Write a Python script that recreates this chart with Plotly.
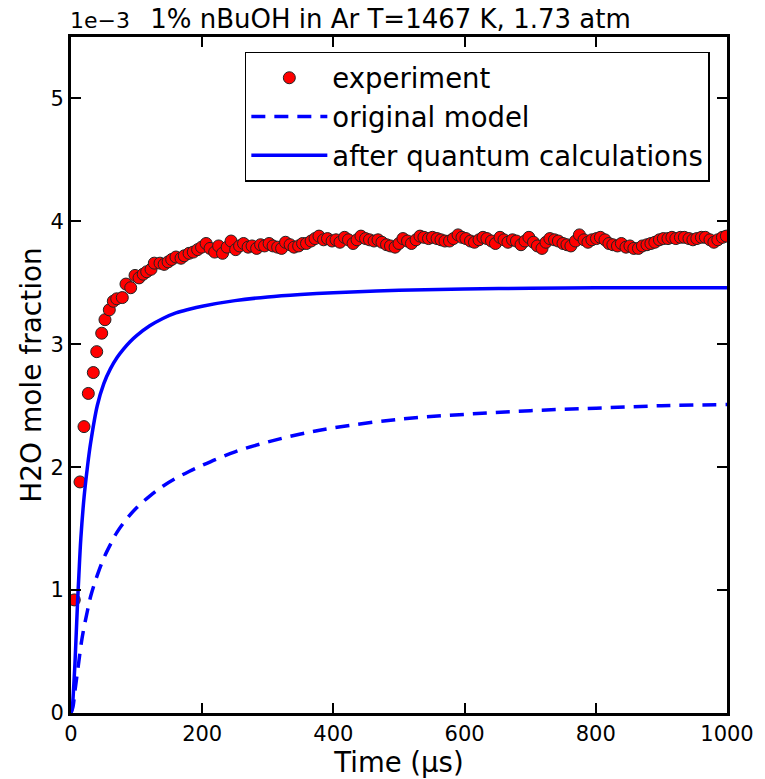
import plotly.graph_objects as go

# Experiment (time in µs, H2O mole fraction in units of 1e-3)
exp_t = [5, 13.7, 19.8, 26.4, 34, 39.2, 46.8, 51.8, 58.4, 64.5, 69.7, 78.2, 83.8, 91, 97.6,
         103.7, 110, 115.4, 122, 127, 135.7, 142, 148, 153.5, 160, 167.7, 172.7, 180, 186.4,
         193, 199, 206, 212, 219, 225, 231, 238, 244, 251, 257, 263, 270, 276, 283, 289, 295,
         302, 308, 315, 321, 327, 334, 340, 347, 353, 359, 366, 372, 378, 385, 391, 398, 404,
         410, 417, 423, 430, 436, 442, 449, 455, 462, 468, 474, 481, 487, 494, 500, 506, 513,
         519, 526, 532, 538, 545, 551, 558, 564, 570, 577, 583, 590, 596, 602, 609, 615, 622,
         628, 634, 641, 647, 654, 660, 666, 673, 679, 686, 692, 698, 705, 711, 718, 724, 730,
         737, 743, 750, 756, 762, 769, 775, 782, 788, 794, 801, 807, 814, 820, 826, 833, 839,
         846, 852, 858, 865, 871, 878, 884, 890, 897, 903, 910, 916, 922, 929, 935, 942, 948,
         954, 961, 967, 974, 980, 986, 993, 999]
exp_y = [0.92, 1.88, 2.33, 2.60, 2.77, 2.94, 3.09, 3.20, 3.28, 3.35, 3.37, 3.38, 3.49, 3.46, 3.56,
         3.54, 3.57, 3.59, 3.61, 3.66, 3.66, 3.65, 3.67, 3.69, 3.71, 3.70, 3.72, 3.74, 3.75,
         3.77, 3.79, 3.82, 3.78, 3.75, 3.80, 3.74, 3.79, 3.84, 3.77, 3.80, 3.82, 3.79, 3.80, 3.78, 3.81, 3.80,
         3.82, 3.80, 3.79, 3.78, 3.83, 3.81, 3.79, 3.80, 3.82, 3.82, 3.84, 3.86, 3.88, 3.85, 3.86, 3.84, 3.85,
         3.83, 3.87, 3.85, 3.82, 3.85, 3.88, 3.86, 3.85, 3.84, 3.85, 3.83, 3.81, 3.80, 3.79, 3.82, 3.86, 3.84,
         3.82, 3.85, 3.88, 3.87, 3.86, 3.87, 3.86, 3.85, 3.84, 3.84, 3.86, 3.89, 3.87, 3.86, 3.84, 3.83, 3.85,
         3.87, 3.86, 3.84, 3.82, 3.87, 3.85, 3.83, 3.85, 3.84, 3.81, 3.84, 3.87, 3.83, 3.80, 3.78, 3.83, 3.86,
         3.85, 3.84, 3.82, 3.81, 3.80, 3.84, 3.89, 3.85, 3.83, 3.85, 3.86, 3.87, 3.85, 3.82, 3.81, 3.80, 3.82,
         3.79, 3.80, 3.78, 3.78, 3.80, 3.81, 3.82, 3.83, 3.85, 3.86, 3.86, 3.87, 3.86, 3.87, 3.87, 3.86, 3.85,
         3.86, 3.87, 3.87, 3.85, 3.83, 3.85, 3.87, 3.88]

# Original model (dashed)
orig_t = [0, 3, 6, 9, 12, 16, 20, 25, 30, 35, 40, 50, 60, 70, 85, 100, 120, 140, 160, 180, 200,
          250, 300, 350, 400, 500, 600, 700, 800, 900, 1000]
orig_y = [0, 0.05, 0.18, 0.30, 0.42, 0.58, 0.70, 0.83, 0.95, 1.04, 1.12, 1.26, 1.37, 1.47, 1.58,
          1.67, 1.765, 1.845, 1.91, 1.965, 2.015, 2.125, 2.205, 2.27, 2.32, 2.39, 2.43, 2.46, 2.48,
          2.50, 2.51]

# After quantum calculations (solid)
qc_t = [0, 2, 4, 6, 8, 10, 12, 15, 20, 25, 30, 40, 50, 60, 70, 80, 90, 100, 120, 140, 160, 180,
        200, 250, 300, 350, 400, 500, 600, 700, 800, 900, 1000]
qc_y = [0, 0.05, 0.20, 0.40, 0.65, 0.90, 1.12, 1.42, 1.76, 2.00, 2.20, 2.50, 2.68, 2.80, 2.89,
        2.96, 3.02, 3.07, 3.15, 3.21, 3.255, 3.285, 3.31, 3.355, 3.385, 3.405, 3.42, 3.44, 3.45,
        3.455, 3.46, 3.46, 3.46]

FONT = "DejaVu Sans"

fig = go.Figure()
fig.add_trace(go.Scatter(
    x=exp_t, y=exp_y, mode="markers", name="experiment", legendgroup="a",
    marker=dict(color="#ff0000", size=12, line=dict(color="#222222", width=1))))
fig.add_trace(go.Scatter(
    x=orig_t, y=orig_y, mode="lines", name="original model", legendgroup="b",
    line=dict(color="#0000ff", width=3.5, dash="14px,9px", shape="spline")))
fig.add_trace(go.Scatter(
    x=qc_t, y=qc_y, mode="lines", name="after quantum calculations", legendgroup="c",
    line=dict(color="#0000ff", width=3.5, shape="spline")))

axis_common = dict(
    showline=True, linecolor="black", linewidth=3, mirror="ticks",
    ticks="inside", ticklen=10, tickwidth=2, tickcolor="#000000",
    showgrid=False, zeroline=False, showticklabels=True,
    tickfont=dict(family=FONT, size=21, color="black"),
)

fig.update_xaxes(
    range=[0, 1000], tickmode="linear", tick0=0, dtick=200,
    title=dict(text="Time (µs)", font=dict(family=FONT, size=27.5, color="black"), standoff=3),
    **axis_common)
fig.update_yaxes(
    range=[0, 5.5], tickmode="linear", tick0=0, dtick=1,
    title=dict(text="H2O mole fraction", font=dict(family=FONT, size=28, color="black"), standoff=1),
    **axis_common)

fig.update_layout(
    width=765, height=779,
    margin=dict(l=71, r=38, t=37, b=66, autoexpand=False),
    plot_bgcolor="white", paper_bgcolor="white",
    font=dict(family=FONT, color="black"),
    title=dict(text="1% nBuOH in Ar T=1467 K, 1.73 atm",
               font=dict(family=FONT, size=26, color="black"),
               xref="paper", x=0.487, xanchor="center",
               yref="container", y=1 - 19 / 779, yanchor="middle"),
    legend=dict(x=0.265, y=0.978, xanchor="left", yanchor="top",
                bordercolor="black", borderwidth=1.5, bgcolor="white",
                font=dict(family=FONT, size=27.5, color="black"),
                tracegroupgap=0, itemwidth=76),
    showlegend=True,
)

fig.add_annotation(text="1e\u22123", xref="paper", yref="paper",
                   x=-0.005, y=(713 - 20) / 676, xanchor="left", yanchor="middle",
                   showarrow=False, font=dict(family=FONT, size=22, color="black"))

fig.write_html("out.html")
